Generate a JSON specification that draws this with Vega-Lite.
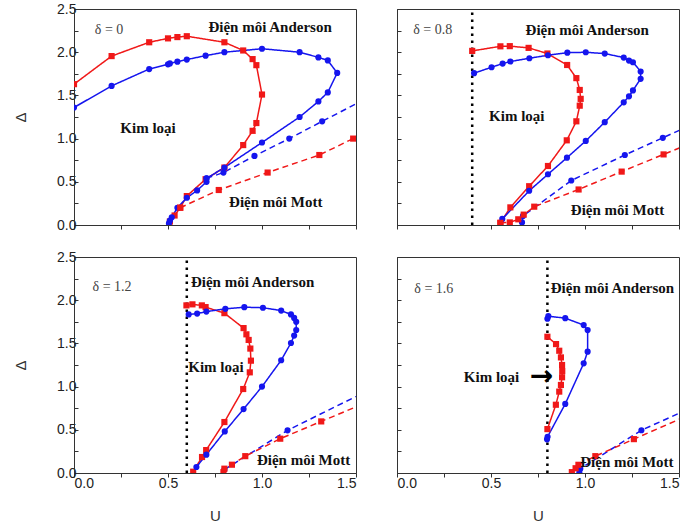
{
"$schema": "https://vega.github.io/schema/vega-lite/v6.json",
"background": "white",
"padding": {"left": 13, "top": 1, "right": 5, "bottom": 1},
"datasets": {
"curves": [
{"delta":"0","series":"red","style":"solid","U":0,"D":1.63},
{"delta":"0","series":"red","style":"solid","U":0.2,"D":1.955},
{"delta":"0","series":"red","style":"solid","U":0.4,"D":2.115},
{"delta":"0","series":"red","style":"solid","U":0.5,"D":2.16},
{"delta":"0","series":"red","style":"solid","U":0.55,"D":2.175},
{"delta":"0","series":"red","style":"solid","U":0.6,"D":2.185},
{"delta":"0","series":"red","style":"solid","U":0.8,"D":2.115},
{"delta":"0","series":"red","style":"solid","U":0.9,"D":2.02},
{"delta":"0","series":"red","style":"solid","U":0.95,"D":1.92},
{"delta":"0","series":"red","style":"solid","U":0.97,"D":1.85},
{"delta":"0","series":"red","style":"solid","U":1.0,"D":1.51},
{"delta":"0","series":"red","style":"solid","U":0.97,"D":1.18},
{"delta":"0","series":"red","style":"solid","U":0.95,"D":1.09},
{"delta":"0","series":"red","style":"solid","U":0.9,"D":0.925},
{"delta":"0","series":"red","style":"solid","U":0.8,"D":0.665},
{"delta":"0","series":"red","style":"solid","U":0.7,"D":0.53},
{"delta":"0","series":"red","style":"solid","U":0.6,"D":0.335},
{"delta":"0","series":"red","style":"solid","U":0.565,"D":0.2},
{"delta":"0","series":"red","style":"solid","U":0.535,"D":0.11},
{"delta":"0","series":"red","style":"solid","U":0.51,"D":0.04},
{"delta":"0","series":"blue","style":"solid","U":0,"D":1.36},
{"delta":"0","series":"blue","style":"solid","U":0.2,"D":1.61},
{"delta":"0","series":"blue","style":"solid","U":0.4,"D":1.805},
{"delta":"0","series":"blue","style":"solid","U":0.5,"D":1.86},
{"delta":"0","series":"blue","style":"solid","U":0.51,"D":1.87},
{"delta":"0","series":"blue","style":"solid","U":0.55,"D":1.89},
{"delta":"0","series":"blue","style":"solid","U":0.6,"D":1.915},
{"delta":"0","series":"blue","style":"solid","U":0.7,"D":1.96},
{"delta":"0","series":"blue","style":"solid","U":0.8,"D":2.0},
{"delta":"0","series":"blue","style":"solid","U":1.0,"D":2.04},
{"delta":"0","series":"blue","style":"solid","U":1.2,"D":2.0},
{"delta":"0","series":"blue","style":"solid","U":1.3,"D":1.94},
{"delta":"0","series":"blue","style":"solid","U":1.35,"D":1.905},
{"delta":"0","series":"blue","style":"solid","U":1.4,"D":1.76},
{"delta":"0","series":"blue","style":"solid","U":1.35,"D":1.535},
{"delta":"0","series":"blue","style":"solid","U":1.3,"D":1.43},
{"delta":"0","series":"blue","style":"solid","U":1.2,"D":1.25},
{"delta":"0","series":"blue","style":"solid","U":1.0,"D":0.955},
{"delta":"0","series":"blue","style":"solid","U":0.8,"D":0.665},
{"delta":"0","series":"blue","style":"solid","U":0.705,"D":0.54},
{"delta":"0","series":"blue","style":"solid","U":0.705,"D":0.5},
{"delta":"0","series":"blue","style":"solid","U":0.655,"D":0.4},
{"delta":"0","series":"blue","style":"solid","U":0.6,"D":0.315},
{"delta":"0","series":"blue","style":"solid","U":0.55,"D":0.2},
{"delta":"0","series":"blue","style":"solid","U":0.52,"D":0.09},
{"delta":"0","series":"blue","style":"solid","U":0.51,"D":0.05},
{"delta":"0","series":"blue","style":"solid","U":0.505,"D":0.02},
{"delta":"0","series":"blue","style":"dashed","U":0.705,"D":0.54},
{"delta":"0","series":"blue","style":"dashed","U":0.795,"D":0.607},
{"delta":"0","series":"blue","style":"dashed","U":0.96,"D":0.8},
{"delta":"0","series":"blue","style":"dashed","U":1.145,"D":1.0},
{"delta":"0","series":"blue","style":"dashed","U":1.32,"D":1.2},
{"delta":"0","series":"blue","style":"dashed","U":1.56,"D":1.47},
{"delta":"0","series":"red","style":"dashed","U":0.565,"D":0.2},
{"delta":"0","series":"red","style":"dashed","U":0.77,"D":0.405},
{"delta":"0","series":"red","style":"dashed","U":1.03,"D":0.607},
{"delta":"0","series":"red","style":"dashed","U":1.305,"D":0.81},
{"delta":"0","series":"red","style":"dashed","U":1.485,"D":1.0},

{"delta":"0.8","series":"red","style":"solid","U":0.4,"D":2.015},
{"delta":"0.8","series":"red","style":"solid","U":0.55,"D":2.068},
{"delta":"0.8","series":"red","style":"solid","U":0.6,"D":2.07},
{"delta":"0.8","series":"red","style":"solid","U":0.7,"D":2.05},
{"delta":"0.8","series":"red","style":"solid","U":0.8,"D":1.985},
{"delta":"0.8","series":"red","style":"solid","U":0.905,"D":1.852},
{"delta":"0.8","series":"red","style":"solid","U":0.954,"D":1.7},
{"delta":"0.8","series":"red","style":"solid","U":0.972,"D":1.563},
{"delta":"0.8","series":"red","style":"solid","U":0.977,"D":1.46},
{"delta":"0.8","series":"red","style":"solid","U":0.972,"D":1.381},
{"delta":"0.8","series":"red","style":"solid","U":0.954,"D":1.2},
{"delta":"0.8","series":"red","style":"solid","U":0.903,"D":0.98},
{"delta":"0.8","series":"red","style":"solid","U":0.803,"D":0.683},
{"delta":"0.8","series":"red","style":"solid","U":0.703,"D":0.449},
{"delta":"0.8","series":"red","style":"solid","U":0.603,"D":0.204},
{"delta":"0.8","series":"red","style":"solid","U":0.55,"D":0.025},
{"delta":"0.8","series":"blue","style":"solid","U":0.41,"D":1.757},
{"delta":"0.8","series":"blue","style":"solid","U":0.503,"D":1.826},
{"delta":"0.8","series":"blue","style":"solid","U":0.562,"D":1.868},
{"delta":"0.8","series":"blue","style":"solid","U":0.603,"D":1.892},
{"delta":"0.8","series":"blue","style":"solid","U":0.704,"D":1.93},
{"delta":"0.8","series":"blue","style":"solid","U":0.803,"D":1.965},
{"delta":"0.8","series":"blue","style":"solid","U":0.906,"D":1.995},
{"delta":"0.8","series":"blue","style":"solid","U":1.004,"D":1.999},
{"delta":"0.8","series":"blue","style":"solid","U":1.105,"D":1.984},
{"delta":"0.8","series":"blue","style":"solid","U":1.206,"D":1.938},
{"delta":"0.8","series":"blue","style":"solid","U":1.234,"D":1.903},
{"delta":"0.8","series":"blue","style":"solid","U":1.255,"D":1.884},
{"delta":"0.8","series":"blue","style":"solid","U":1.296,"D":1.777},
{"delta":"0.8","series":"blue","style":"solid","U":1.296,"D":1.692},
{"delta":"0.8","series":"blue","style":"solid","U":1.255,"D":1.558},
{"delta":"0.8","series":"blue","style":"solid","U":1.234,"D":1.489},
{"delta":"0.8","series":"blue","style":"solid","U":1.206,"D":1.42},
{"delta":"0.8","series":"blue","style":"solid","U":1.105,"D":1.19},
{"delta":"0.8","series":"blue","style":"solid","U":1.004,"D":0.973},
{"delta":"0.8","series":"blue","style":"solid","U":0.904,"D":0.779},
{"delta":"0.8","series":"blue","style":"solid","U":0.803,"D":0.587},
{"delta":"0.8","series":"blue","style":"solid","U":0.703,"D":0.396},
{"delta":"0.8","series":"blue","style":"solid","U":0.56,"D":0.07},
{"delta":"0.8","series":"blue","style":"dashed","U":0.665,"D":0.03},
{"delta":"0.8","series":"blue","style":"dashed","U":0.67,"D":0.105},
{"delta":"0.8","series":"blue","style":"dashed","U":0.927,"D":0.515},
{"delta":"0.8","series":"blue","style":"dashed","U":1.212,"D":0.81},
{"delta":"0.8","series":"blue","style":"dashed","U":1.414,"D":1.009},
{"delta":"0.8","series":"blue","style":"dashed","U":1.56,"D":1.153},
{"delta":"0.8","series":"red","style":"dashed","U":0.55,"D":0.025},
{"delta":"0.8","series":"red","style":"dashed","U":0.6,"D":0.03},
{"delta":"0.8","series":"red","style":"dashed","U":0.645,"D":0.066},
{"delta":"0.8","series":"red","style":"dashed","U":0.674,"D":0.12},
{"delta":"0.8","series":"red","style":"dashed","U":0.73,"D":0.212},
{"delta":"0.8","series":"red","style":"dashed","U":0.966,"D":0.411},
{"delta":"0.8","series":"red","style":"dashed","U":1.195,"D":0.618},
{"delta":"0.8","series":"red","style":"dashed","U":1.418,"D":0.817},
{"delta":"0.8","series":"red","style":"dashed","U":1.56,"D":0.943},

{"delta":"1.2","series":"red","style":"solid","U":0.598,"D":1.94},
{"delta":"1.2","series":"red","style":"solid","U":0.63,"D":1.952},
{"delta":"1.2","series":"red","style":"solid","U":0.68,"D":1.94},
{"delta":"1.2","series":"red","style":"solid","U":0.7,"D":1.92},
{"delta":"1.2","series":"red","style":"solid","U":0.8,"D":1.85},
{"delta":"1.2","series":"red","style":"solid","U":0.902,"D":1.677},
{"delta":"1.2","series":"red","style":"solid","U":0.917,"D":1.605},
{"delta":"1.2","series":"red","style":"solid","U":0.929,"D":1.54},
{"delta":"1.2","series":"red","style":"solid","U":0.938,"D":1.44},
{"delta":"1.2","series":"red","style":"solid","U":0.941,"D":1.3},
{"delta":"1.2","series":"red","style":"solid","U":0.935,"D":1.165},
{"delta":"1.2","series":"red","style":"solid","U":0.9,"D":0.972},
{"delta":"1.2","series":"red","style":"solid","U":0.8,"D":0.59},
{"delta":"1.2","series":"red","style":"solid","U":0.703,"D":0.265},
{"delta":"1.2","series":"red","style":"solid","U":0.681,"D":0.185},
{"delta":"1.2","series":"red","style":"solid","U":0.634,"D":0.015},
{"delta":"1.2","series":"blue","style":"solid","U":0.61,"D":1.835},
{"delta":"1.2","series":"blue","style":"solid","U":0.655,"D":1.845},
{"delta":"1.2","series":"blue","style":"solid","U":0.704,"D":1.868},
{"delta":"1.2","series":"blue","style":"solid","U":0.805,"D":1.9},
{"delta":"1.2","series":"blue","style":"solid","U":0.906,"D":1.919},
{"delta":"1.2","series":"blue","style":"solid","U":1.005,"D":1.913},
{"delta":"1.2","series":"blue","style":"solid","U":1.102,"D":1.88},
{"delta":"1.2","series":"blue","style":"solid","U":1.154,"D":1.835},
{"delta":"1.2","series":"blue","style":"solid","U":1.171,"D":1.795},
{"delta":"1.2","series":"blue","style":"solid","U":1.182,"D":1.75},
{"delta":"1.2","series":"blue","style":"solid","U":1.182,"D":1.655},
{"delta":"1.2","series":"blue","style":"solid","U":1.171,"D":1.59},
{"delta":"1.2","series":"blue","style":"solid","U":1.154,"D":1.505},
{"delta":"1.2","series":"blue","style":"solid","U":1.102,"D":1.305},
{"delta":"1.2","series":"blue","style":"solid","U":1.0,"D":1.0},
{"delta":"1.2","series":"blue","style":"solid","U":0.902,"D":0.74},
{"delta":"1.2","series":"blue","style":"solid","U":0.802,"D":0.481},
{"delta":"1.2","series":"blue","style":"solid","U":0.704,"D":0.212},
{"delta":"1.2","series":"blue","style":"solid","U":0.651,"D":0.069},
{"delta":"1.2","series":"blue","style":"dashed","U":0.8,"D":0.04},
{"delta":"1.2","series":"blue","style":"dashed","U":1.136,"D":0.494},
{"delta":"1.2","series":"blue","style":"dashed","U":1.56,"D":0.95},
{"delta":"1.2","series":"red","style":"dashed","U":0.795,"D":0.01},
{"delta":"1.2","series":"red","style":"dashed","U":0.8,"D":0.05},
{"delta":"1.2","series":"red","style":"dashed","U":0.84,"D":0.096},
{"delta":"1.2","series":"red","style":"dashed","U":0.911,"D":0.195},
{"delta":"1.2","series":"red","style":"dashed","U":1.097,"D":0.397},
{"delta":"1.2","series":"red","style":"dashed","U":1.315,"D":0.597},
{"delta":"1.2","series":"red","style":"dashed","U":1.56,"D":0.82},

{"delta":"1.6","series":"red","style":"solid","U":0.8,"D":1.577},
{"delta":"1.6","series":"red","style":"solid","U":0.846,"D":1.492},
{"delta":"1.6","series":"red","style":"solid","U":0.863,"D":1.415},
{"delta":"1.6","series":"red","style":"solid","U":0.872,"D":1.338},
{"delta":"1.6","series":"red","style":"solid","U":0.878,"D":1.25},
{"delta":"1.6","series":"red","style":"solid","U":0.879,"D":1.18},
{"delta":"1.6","series":"red","style":"solid","U":0.878,"D":1.108},
{"delta":"1.6","series":"red","style":"solid","U":0.872,"D":1.019},
{"delta":"1.6","series":"red","style":"solid","U":0.863,"D":0.942},
{"delta":"1.6","series":"red","style":"solid","U":0.845,"D":0.79},
{"delta":"1.6","series":"red","style":"solid","U":0.8,"D":0.508},
{"delta":"1.6","series":"blue","style":"solid","U":0.8,"D":1.785},
{"delta":"1.6","series":"blue","style":"solid","U":0.805,"D":1.815},
{"delta":"1.6","series":"blue","style":"solid","U":0.895,"D":1.792},
{"delta":"1.6","series":"blue","style":"solid","U":0.993,"D":1.712},
{"delta":"1.6","series":"blue","style":"solid","U":1.014,"D":1.654},
{"delta":"1.6","series":"blue","style":"solid","U":1.014,"D":1.404},
{"delta":"1.6","series":"blue","style":"solid","U":0.993,"D":1.269},
{"delta":"1.6","series":"blue","style":"solid","U":0.895,"D":0.8},
{"delta":"1.6","series":"blue","style":"solid","U":0.801,"D":0.42},
{"delta":"1.6","series":"blue","style":"solid","U":0.798,"D":0.39},
{"delta":"1.6","series":"blue","style":"dashed","U":0.97,"D":0.005},
{"delta":"1.6","series":"blue","style":"dashed","U":0.975,"D":0.05},
{"delta":"1.6","series":"blue","style":"dashed","U":1.3,"D":0.495},
{"delta":"1.6","series":"blue","style":"dashed","U":1.56,"D":0.75},
{"delta":"1.6","series":"red","style":"dashed","U":0.93,"D":0.01},
{"delta":"1.6","series":"red","style":"dashed","U":0.95,"D":0.055},
{"delta":"1.6","series":"red","style":"dashed","U":0.965,"D":0.095},
{"delta":"1.6","series":"red","style":"dashed","U":1.055,"D":0.195},
{"delta":"1.6","series":"red","style":"dashed","U":1.26,"D":0.392},
{"delta":"1.6","series":"red","style":"dashed","U":1.56,"D":0.677}
],
"vlines": [
{"delta":"0.8","U":0.4,"D":0,"D2":2.5},
{"delta":"1.2","U":0.6,"D":0,"D2":2.5},
{"delta":"1.6","U":0.8,"D":0,"D2":2.5}
],
"deltas": [
{"delta":"0","U":0.111,"D":2.26,"text":"δ = 0"},
{"delta":"0.8","U":0.086,"D":2.255,"text":"δ = 0.8"},
{"delta":"1.2","U":0.099,"D":2.157,"text":"δ = 1.2"},
{"delta":"1.6","U":0.092,"D":2.126,"text":"δ = 1.6"}
],
"regions": [
{"delta":"0","U":1.043,"D":2.29,"text":"Điện môi Anderson"},
{"delta":"0","U":0.394,"D":1.125,"text":"Kim loại"},
{"delta":"0","U":1.073,"D":0.265,"text":"Điện môi Mott"},
{"delta":"0.8","U":1.012,"D":2.26,"text":"Điện môi Anderson"},
{"delta":"0.8","U":0.637,"D":1.259,"text":"Kim loại"},
{"delta":"0.8","U":1.173,"D":0.177,"text":"Điện môi Mott"},
{"delta":"1.2","U":0.95,"D":2.208,"text":"Điện môi Anderson"},
{"delta":"1.2","U":0.755,"D":1.232,"text":"Kim loại"},
{"delta":"1.2","U":1.221,"D":0.154,"text":"Điện môi Mott"},
{"delta":"1.6","U":1.146,"D":2.14,"text":"Điện môi Anderson"},
{"delta":"1.6","U":0.503,"D":1.114,"text":"Kim loại"},
{"delta":"1.6","U":1.223,"D":0.122,"text":"Điện môi Mott"}
],
"arrows": [
{"delta":"1.6","U":0.769,"D":1.114,"text":"→"}
]
},
"concat": [
{
"width": 282, "height": 216,
"encoding": {
"x": {"field":"U","type":"quantitative","scale":{"domain":[0,1.5]},"axis":{"values":[0,0.25,0.5,0.75,1,1.25,1.5],"labels":false,"title":null,"tickSize":4}},
"y": {"field":"D","type":"quantitative","scale":{"domain":[0,2.5]},"axis":{"values":[0,0.25,0.5,0.75,1,1.25,1.5,1.75,2,2.25,2.5],"labelExpr":"datum.value % 0.5 === 0 ? format(datum.value, '.1f') : ''","title":"Δ","tickSize":-4}}
},
"layer": [
{"data":{"name":"curves"},"transform":[{"filter":"datum.delta == '0'"}],"mark":{"type":"line","strokeWidth":1.5,"clip":true},"encoding":{"color":{"field":"series","type":"nominal","scale":{"domain":["red","blue"],"range":["#f01818","#1515ee"]},"legend":null},"strokeDash":{"field":"style","type":"nominal","scale":{"domain":["solid","dashed"],"range":[[1,0],[6,4]]},"legend":null},"order":{"value":null}}},
{"data":{"name":"curves"},"transform":[{"filter":"datum.delta == '0'"}],"mark":{"type":"point","filled":true,"opacity":1,"size":38,"clip":true},"encoding":{"color":{"field":"series","type":"nominal","scale":{"domain":["red","blue"],"range":["#f01818","#1515ee"]},"legend":null},"shape":{"field":"series","type":"nominal","scale":{"domain":["red","blue"],"range":["square","circle"]},"legend":null}}},
{"data":{"name":"deltas"},"transform":[{"filter":"datum.delta == '0'"}],"mark":{"type":"text","align":"left","baseline":"middle","font":"Liberation Serif","fontSize":14,"color":"#444"},"encoding":{"text":{"field":"text"}}},
{"data":{"name":"regions"},"transform":[{"filter":"datum.delta == '0'"}],"mark":{"type":"text","align":"center","baseline":"middle","font":"Liberation Serif","fontSize":15,"fontWeight":"bold","color":"#111"},"encoding":{"text":{"field":"text"}}}
]
},
{
"width": 282, "height": 216,
"encoding": {
"x": {"field":"U","type":"quantitative","scale":{"domain":[0,1.5]},"axis":{"values":[0,0.25,0.5,0.75,1,1.25,1.5],"labels":false,"title":null,"tickSize":4}},
"y": {"field":"D","type":"quantitative","scale":{"domain":[0,2.5]},"axis":{"values":[0,0.25,0.5,0.75,1,1.25,1.5,1.75,2,2.25,2.5],"labels":false,"title":null,"tickSize":-4}}
},
"layer": [
{"data":{"name":"vlines"},"transform":[{"filter":"datum.delta == '0.8'"}],"mark":{"type":"rule","strokeDash":[2.5,4.5],"strokeWidth":2.5,"color":"#000"},"encoding":{"y2":{"field":"D2"}}},
{"data":{"name":"curves"},"transform":[{"filter":"datum.delta == '0.8'"}],"mark":{"type":"line","strokeWidth":1.5,"clip":true},"encoding":{"color":{"field":"series","type":"nominal","scale":{"domain":["red","blue"],"range":["#f01818","#1515ee"]},"legend":null},"strokeDash":{"field":"style","type":"nominal","scale":{"domain":["solid","dashed"],"range":[[1,0],[6,4]]},"legend":null},"order":{"value":null}}},
{"data":{"name":"curves"},"transform":[{"filter":"datum.delta == '0.8'"}],"mark":{"type":"point","filled":true,"opacity":1,"size":38,"clip":true},"encoding":{"color":{"field":"series","type":"nominal","scale":{"domain":["red","blue"],"range":["#f01818","#1515ee"]},"legend":null},"shape":{"field":"series","type":"nominal","scale":{"domain":["red","blue"],"range":["square","circle"]},"legend":null}}},
{"data":{"name":"deltas"},"transform":[{"filter":"datum.delta == '0.8'"}],"mark":{"type":"text","align":"left","baseline":"middle","font":"Liberation Serif","fontSize":14,"color":"#444"},"encoding":{"text":{"field":"text"}}},
{"data":{"name":"regions"},"transform":[{"filter":"datum.delta == '0.8'"}],"mark":{"type":"text","align":"center","baseline":"middle","font":"Liberation Serif","fontSize":15,"fontWeight":"bold","color":"#111"},"encoding":{"text":{"field":"text"}}}
]
},
{
"width": 282, "height": 216,
"encoding": {
"x": {"field":"U","type":"quantitative","scale":{"domain":[0,1.5]},"axis":{"values":[0,0.25,0.5,0.75,1,1.25,1.5],"labelExpr":"datum.value % 0.5 === 0 ? format(datum.value, '.1f') : ''","title":"U","tickSize":4}},
"y": {"field":"D","type":"quantitative","scale":{"domain":[0,2.5]},"axis":{"values":[0,0.25,0.5,0.75,1,1.25,1.5,1.75,2,2.25,2.5],"labelExpr":"datum.value % 0.5 === 0 ? format(datum.value, '.1f') : ''","title":"Δ","tickSize":-4}}
},
"layer": [
{"data":{"name":"vlines"},"transform":[{"filter":"datum.delta == '1.2'"}],"mark":{"type":"rule","strokeDash":[2.5,4.5],"strokeWidth":2.5,"color":"#000"},"encoding":{"y2":{"field":"D2"}}},
{"data":{"name":"curves"},"transform":[{"filter":"datum.delta == '1.2'"}],"mark":{"type":"line","strokeWidth":1.5,"clip":true},"encoding":{"color":{"field":"series","type":"nominal","scale":{"domain":["red","blue"],"range":["#f01818","#1515ee"]},"legend":null},"strokeDash":{"field":"style","type":"nominal","scale":{"domain":["solid","dashed"],"range":[[1,0],[6,4]]},"legend":null},"order":{"value":null}}},
{"data":{"name":"curves"},"transform":[{"filter":"datum.delta == '1.2'"}],"mark":{"type":"point","filled":true,"opacity":1,"size":38,"clip":true},"encoding":{"color":{"field":"series","type":"nominal","scale":{"domain":["red","blue"],"range":["#f01818","#1515ee"]},"legend":null},"shape":{"field":"series","type":"nominal","scale":{"domain":["red","blue"],"range":["square","circle"]},"legend":null}}},
{"data":{"name":"deltas"},"transform":[{"filter":"datum.delta == '1.2'"}],"mark":{"type":"text","align":"left","baseline":"middle","font":"Liberation Serif","fontSize":14,"color":"#444"},"encoding":{"text":{"field":"text"}}},
{"data":{"name":"regions"},"transform":[{"filter":"datum.delta == '1.2'"}],"mark":{"type":"text","align":"center","baseline":"middle","font":"Liberation Serif","fontSize":15,"fontWeight":"bold","color":"#111"},"encoding":{"text":{"field":"text"}}}
]
},
{
"width": 282, "height": 216,
"encoding": {
"x": {"field":"U","type":"quantitative","scale":{"domain":[0,1.5]},"axis":{"values":[0,0.25,0.5,0.75,1,1.25,1.5],"labelExpr":"datum.value % 0.5 === 0 ? format(datum.value, '.1f') : ''","title":"U","tickSize":4}},
"y": {"field":"D","type":"quantitative","scale":{"domain":[0,2.5]},"axis":{"values":[0,0.25,0.5,0.75,1,1.25,1.5,1.75,2,2.25,2.5],"labels":false,"title":null,"tickSize":-4}}
},
"layer": [
{"data":{"name":"vlines"},"transform":[{"filter":"datum.delta == '1.6'"}],"mark":{"type":"rule","strokeDash":[2.5,4.5],"strokeWidth":2.5,"color":"#000"},"encoding":{"y2":{"field":"D2"}}},
{"data":{"name":"curves"},"transform":[{"filter":"datum.delta == '1.6'"}],"mark":{"type":"line","strokeWidth":1.5,"clip":true},"encoding":{"color":{"field":"series","type":"nominal","scale":{"domain":["red","blue"],"range":["#f01818","#1515ee"]},"legend":null},"strokeDash":{"field":"style","type":"nominal","scale":{"domain":["solid","dashed"],"range":[[1,0],[6,4]]},"legend":null},"order":{"value":null}}},
{"data":{"name":"curves"},"transform":[{"filter":"datum.delta == '1.6'"}],"mark":{"type":"point","filled":true,"opacity":1,"size":38,"clip":true},"encoding":{"color":{"field":"series","type":"nominal","scale":{"domain":["red","blue"],"range":["#f01818","#1515ee"]},"legend":null},"shape":{"field":"series","type":"nominal","scale":{"domain":["red","blue"],"range":["square","circle"]},"legend":null}}},
{"data":{"name":"deltas"},"transform":[{"filter":"datum.delta == '1.6'"}],"mark":{"type":"text","align":"left","baseline":"middle","font":"Liberation Serif","fontSize":14,"color":"#444"},"encoding":{"text":{"field":"text"}}},
{"data":{"name":"regions"},"transform":[{"filter":"datum.delta == '1.6'"}],"mark":{"type":"text","align":"center","baseline":"middle","font":"Liberation Serif","fontSize":15,"fontWeight":"bold","color":"#111"},"encoding":{"text":{"field":"text"}}},
{"data":{"name":"arrows"},"transform":[{"filter":"datum.delta == '1.6'"}],"mark":{"type":"text","align":"center","baseline":"middle","font":"DejaVu Sans","fontSize":28,"fontWeight":"bold","color":"#000"},"encoding":{"text":{"field":"text"}}}
]
}
],
"columns": 2,
"spacing": {"row": 32, "column": 41},
"bounds": "flush",
"config": {
"view": {"stroke": "#333", "strokeWidth": 1},
"axis": {"grid": false, "domainColor": "#333", "tickColor": "#333", "labelFont": "Liberation Sans", "labelFontSize": 14, "labelColor": "#222", "titleFont": "Liberation Sans", "titleFontSize": 15, "titleFontWeight": "normal", "titleColor": "#333"},
"axisY": {"titlePadding": 28, "labelPadding": 2},
"axisX": {"titlePadding": 18, "labelPadding": -1}
}
}
